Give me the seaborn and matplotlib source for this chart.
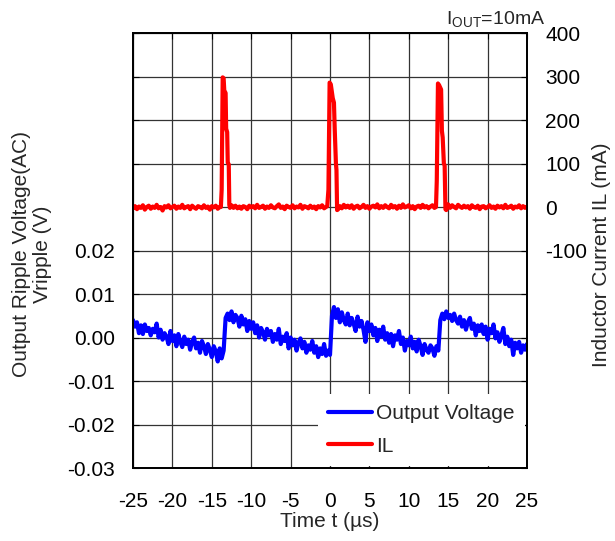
import numpy as np
import pandas as pd
import matplotlib
matplotlib.use("Agg")
import matplotlib.pyplot as plt
import seaborn as sns

# Eixo de tempo (µs), amostras a cada 0.25 µs
t_start = -25.0
t_step = 0.25

# Tensão de saída (ripple AC), em mV
vout_mv = [
    4.0, 2.5, 3.5, 1.0, 2.8, 0.8, 3.0, 1.5, 2.2, 0.5,
    2.0, 1.2, 3.2, 0.0, 1.8, -0.5, 1.0, 0.2, -1.5, 1.5,
    -0.8, 0.5, -2.0, 0.8, -1.0, -2.2, 0.2, -1.5, -0.5, -2.8,
    -1.0, 0.0, -2.5, -1.2, -3.5, -0.8, -2.0, -3.8, -1.5, -2.8,
    -4.5, -2.0, -3.2, -5.5, -2.5, -4.8, -3.0,
    4.5,
    5.5, 4.0, 6.0, 3.5, 5.2, 4.5, 2.5, 5.0, 3.0, 4.2, 1.5, 3.8,
    2.0, 3.5, 1.0, 2.8, 0.0, 2.2, 1.2, -0.5, 2.0, 0.5,
    1.5, -1.0, 0.8, -0.5, 2.0, -1.5, 0.2, -0.8, 1.0, -2.5,
    0.0, -1.8, -0.5, -3.0, -1.2, -0.2, -2.5, -1.0, -3.5, -1.8,
    -2.8, -0.8, -3.5, -2.0, -4.5, -2.5, -3.8, -1.5, -4.2, -3.0, -4.0,
    5.0,
    7.0, 4.5, 6.5, 3.5, 5.8, 4.0, 3.0, 5.5,
    2.8, 4.5, 3.2, 1.5, 4.8, 2.5, 3.8, 1.8, -1.0, 3.5,
    1.5, 3.0, 0.5, 2.2, -0.8, 1.8, 0.2, 2.5, -0.5, 1.0,
    -1.2, 0.8, -2.0, 0.5, -0.5, 1.5, -1.5, 0.0, -3.0, -0.8,
    -1.8, 0.2, -2.5, -1.0, -3.2, -0.5, -2.0, -4.0, -1.5, -2.8,
    -3.5, -1.8, -2.5, -4.2, -2.0, -3.0,
    4.0,
    5.5, 4.2, 6.0, 4.5, 5.2, 3.8, 5.5, 4.0, 3.2,
    4.8, 2.5, 4.0, 1.8, 3.5, 4.5, 2.0, 3.2, 0.5, 2.8,
    1.5, 3.0, 0.8, 2.5, -0.5, 2.0, 1.0, 3.0, -0.2, 1.2,
    -1.0, 0.5, 2.2, -1.5, 0.2, -2.0, -0.5, -4.0, -1.2, -2.5,
    -1.0, -3.5, -1.8, -2.8, -1.5,
]

# Corrente no indutor (mA): linha de base nas mesmas amostras
il_base_ma = [
    -3, 2, -5, 1, -2, 4, -6, 0, 3, -4,
    1, -2, 5, -3, 0, -8, 2, -1, 4, -3,
    0, 3, -4, 1, -2, 5, -3, 0, 2, -5,
    3, -1, -4, 2, 0, -3, 4, -2, 1, -6,
    2, -1, 3, -4, 0, 0, 0, 0, 0, 0,
    4, -2, 3, -3, 1, -4, 2, 0, -5, 3,
    -1, 2, -3, 5, -2, 0, 3, -4, 1, -2,
    4, -1, -3, 2, 6, -2, 1, -5, 3, 0,
    -2, 4, -3, 1, -1, 5, -4, 2, 0, -3,
    3, -2, 1, -5, 2, -1, 4, -3, 0, 2,
    0, 0, 0, 0, -6, 2, -3, 5, -1, 3,
    -2, 4, -4, 1, 3, -3, 0, 5, -2, 2,
    -4, 1, 3, -1, 6, -3, 2, -2, 4, 0,
    -3, 5, -1, 2, -4, 3, -2, 6, -1, 1,
    4, -3, 2, -5, 1, 3, -2, 5, -1, 2,
    -3, 1, 4, -2, 0, 0, 0, 0, 0, 3,
    6, -2, 4, 0, -3, 5, 1, -2, 3, -1,
    2, -4, 4, 0, -2, 3, -5, 1, 2, -3,
    0, 4, -2, 1, -4, 3, -1, 2, -3, 5,
    -2, 0, 3, -4, 1, -1, 4, -3, 2, -2,
    1,
]

# Picos de corrente (tempo em µs, corrente em mA)
spike_windows = [(-13.9, -12.65), (-0.3, 0.95), (13.4, 14.8)]
spike_t = [
    -13.85, -13.75, -13.62, -13.5, -13.42, -13.25, -13.18, -13.05, -12.98, -12.85, -12.78, -12.7,
    -0.35, -0.2, -0.05, 0.1, 0.35, 0.5, 0.6, 0.75, 0.82, 0.9,
    13.45, 13.55, 13.7, 13.85, 14.1, 14.2, 14.3, 14.45, 14.55, 14.65, 14.75,
]
spike_ma = [
    0, 40, 298, 296, 268, 262, 180, 172, 102, 98, 5, -2,
    2, 40, 286, 282, 250, 240, 178, 100, 85, -7,
    0, 60, 284, 280, 270, 175, 160, 100, 95, -5, -7,
]

x_ticks = [-25, -20, -15, -10, -5, 0, 5, 10, 15, 20, 25]
v_ticks = [-0.03, -0.02, -0.01, 0.00, 0.01, 0.02, 0.03, 0.04, 0.05, 0.06, 0.07]
v_labels = ["-0.03", "-0.02", "-0.01", "0.00", "0.01", "0.02", "", "", "", "", ""]
i_ticks = [-600, -500, -400, -300, -200, -100, 0, 100, 200, 300, 400]
i_labels = ["", "", "", "", "", "-100", "0", "100", "200", "300", "400"]


def build_data():
    t = t_start + t_step * np.arange(len(vout_mv))
    df_v = pd.DataFrame({"t": t, "v": np.array(vout_mv) / 1000.0})
    base = pd.DataFrame({"t": t_start + t_step * np.arange(len(il_base_ma)), "il": il_base_ma})
    keep = np.ones(len(base), dtype=bool)
    for a, b in spike_windows:
        keep &= ~((base["t"] > a) & (base["t"] < b))
    spikes = pd.DataFrame({"t": spike_t, "il": spike_ma})
    df_i = pd.concat([base[keep], spikes]).sort_values("t").reset_index(drop=True)
    return df_v, df_i


def plot(df_v, df_i):
    sns.set_style("white")
    plt.rcParams["font.family"] = ["Liberation Sans", "DejaVu Sans"]
    plt.rcParams["mathtext.fontset"] = "custom"
    plt.rcParams["mathtext.rm"] = "Liberation Sans"

    fig = plt.figure(figsize=(6.15, 5.41), dpi=100)
    ax = fig.add_axes([0.2163, 0.1349, 0.6406, 0.8041])
    ax2 = ax.twinx()

    sns.lineplot(data=df_v, x="t", y="v", ax=ax, color="#0000ff", lw=3,
                 estimator=None, legend=False)
    sns.lineplot(data=df_i, x="t", y="il", ax=ax2, color="#ff0000", lw=3,
                 estimator=None, legend=False)

    ax.set_xlim(-25, 25)
    ax.set_ylim(-0.03, 0.07)
    ax2.set_ylim(-600, 400)
    ax.set_xticks(x_ticks)
    ax.set_xticklabels([str(v) for v in x_ticks])
    ax.set_yticks(v_ticks)
    ax.set_yticklabels(v_labels)
    ax2.set_yticks(i_ticks)
    ax2.set_yticklabels(i_labels)

    ax.grid(True, color="#333333", lw=0.9)
    ax.set_axisbelow(True)
    for a in (ax, ax2):
        for s in a.spines.values():
            s.set_color("black")
            s.set_linewidth(1.3)
    ax.tick_params(axis="y", direction="in", length=4, labelsize=15, pad=13,
                   colors="black")
    ax.tick_params(axis="x", direction="in", length=4, labelsize=15, pad=17,
                   colors="black", top=True)
    ax2.tick_params(axis="y", direction="in", length=4, labelsize=15, pad=13,
                    colors="black")

    ax.set_xlabel("Time t (µs)", fontsize=15, labelpad=1)
    ax.set_ylabel("")
    # rótulo do eixo esquerdo: duas linhas centradas
    fig.text(0.035, 0.53, "Output Ripple Voltage(AC)", fontsize=15,
             rotation=90, ha="center", va="center")
    fig.text(0.069, 0.53, "Vripple (V)", fontsize=15,
             rotation=90, ha="center", va="center")
    ax2.set_ylabel("Inductor Current IL (mA)", fontsize=15)
    ax2.yaxis.set_label_coords(1.165, 0.49)

    fig.text(0.886, 0.954, r"I$_{\rm OUT}$=10mA", fontsize=14, ha="right", va="baseline")

    handles = ax.get_lines()[:1] + ax2.get_lines()[:1]
    leg = ax2.legend(handles, ["Output Voltage", "IL"], loc="lower right",
                     fontsize=15, handlelength=2.1, handletextpad=0.2,
                     labelspacing=0.65, borderaxespad=0.1, borderpad=0.5,
                     frameon=True, fancybox=False, framealpha=1)
    leg.get_frame().set_edgecolor("none")
    leg.get_frame().set_facecolor("white")

    fig.savefig("out.png", dpi=100)


def main():
    df_v, df_i = build_data()
    plot(df_v, df_i)


if __name__ == "__main__":
    main()
